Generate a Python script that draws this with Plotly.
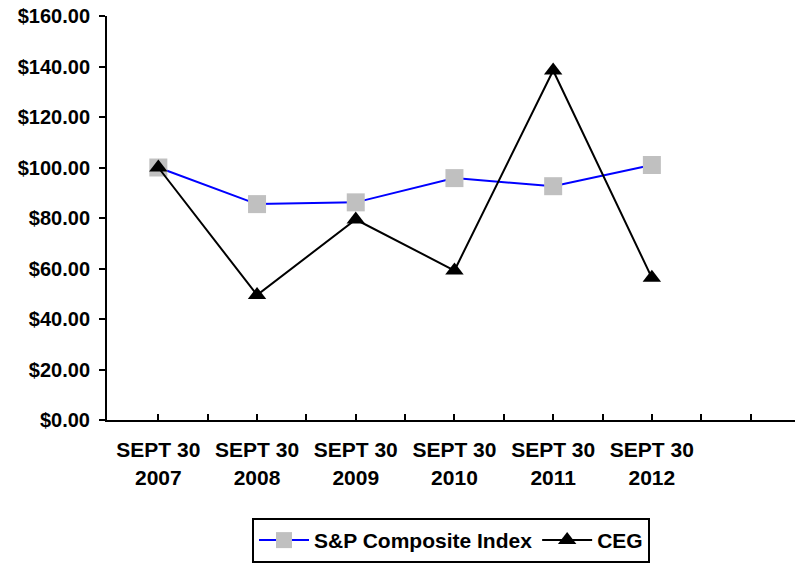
import plotly.graph_objects as go

categories = ["SEPT 30<br>2007", "SEPT 30<br>2008", "SEPT 30<br>2009",
              "SEPT 30<br>2010", "SEPT 30<br>2011", "SEPT 30<br>2012"]
sp_values = [100.0, 85.5, 86.2, 95.8, 92.6, 101.0]
ceg_values = [100.0, 49.5, 79.4, 59.2, 138.4, 56.3]
y_ticks = [0, 20, 40, 60, 80, 100, 120, 140, 160]
y_labels = ["$%.2f" % v for v in y_ticks]

xpos = list(range(len(categories)))
FONT = "Arial, Liberation Sans, sans-serif"

fig = go.Figure()
fig.add_trace(go.Scatter(
    x=xpos, y=sp_values, name="S&P Composite Index", mode="lines+markers",
    line=dict(color="#0000FF", width=2),
    marker=dict(symbol="square", size=18, color="#C0C0C0"),
))
fig.add_trace(go.Scatter(
    x=xpos, y=ceg_values, name="CEG", mode="lines+markers",
    line=dict(color="#000000", width=2),
    marker=dict(symbol="triangle-up", size=16, color="#000000"),
))

fig.update_layout(
    width=795, height=563,
    margin=dict(l=107, r=0, t=16, b=143, autoexpand=False),
    plot_bgcolor="white", paper_bgcolor="white",
    font=dict(family=FONT, size=20, color="black"),
    showlegend=True,
    legend=dict(
        orientation="h", x=0.5, xanchor="center", y=-0.2425, yanchor="top",
        bordercolor="black", borderwidth=2, bgcolor="white",
        font=dict(family=FONT, size=21, color="black", weight="bold"),
        itemwidth=50, tracegroupgap=0,
    ),
    xaxis=dict(
        range=[-0.52, 6.45], tickvals=xpos, ticktext=categories,
        showgrid=False, zeroline=False, automargin=False,
        showline=True, linecolor="black", linewidth=2,
        ticks="inside", ticklen=6, tickwidth=2, tickcolor="black",
        tickfont=dict(family=FONT, size=21, color="black", weight="bold"),
        minor=dict(tickvals=[0.5, 1.5, 2.5, 3.5, 4.5, 5.5, 6.0], ticks="inside",
                   ticklen=6, tickwidth=2, tickcolor="black", showgrid=False),
        ticklabelstandoff=10,
    ),
    yaxis=dict(
        range=[0, 160], tickvals=y_ticks, ticktext=y_labels,
        showgrid=False, zeroline=False, automargin=False,
        showline=True, linecolor="black", linewidth=2,
        ticks="outside", ticklen=6, tickwidth=2, tickcolor="black",
        tickfont=dict(family=FONT, size=20, color="black", weight="bold"),
        ticklabelstandoff=5,
    ),
)

fig.write_html(
    "out.html",
    config={"displayModeBar": False},
    post_script="document.body.style.margin='0';document.body.style.overflow='hidden';",
)
